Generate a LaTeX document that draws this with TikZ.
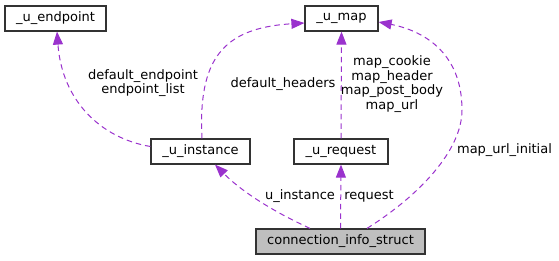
\documentclass[tikz,border=0pt]{standalone}
\usepackage{fontspec}
\setmainfont{DejaVu Sans}
\usetikzlibrary{arrows.meta}
\definecolor{edgecol}{HTML}{9A32CD}
\definecolor{boxline}{HTML}{333333}
\definecolor{mainfill}{HTML}{BFBFBF}
\begin{document}
\begin{tikzpicture}[x=1pt,y=-1pt,
  every node/.style={font=\fontsize{13}{14.7}\selectfont},
  classbox/.style={draw=boxline,line width=1.2pt,fill=white,minimum height=25pt,inner sep=0pt},
  usage/.style={draw=edgecol,line width=1pt,dash pattern=on 5.5pt off 4pt,
    -{Triangle[length=13pt,width=10pt,fill=edgecol]}},
  lbl/.style={align=center,inner sep=0pt}]
  \useasboundingbox (0,0) rectangle (559,260);

  % classes
  \node[classbox,minimum width=101pt] (ep) at (55.5,18.5) {\_u\_endpoint};
  \node[classbox,minimum width=73pt] (map) at (341.5,18.5) {\_u\_map};
  \node[classbox,minimum width=99pt] (inst) at (200.5,151.5) {\_u\_instance};
  \node[classbox,minimum width=94pt] (req) at (341,151.5) {\_u\_request};
  \node[classbox,minimum width=169pt,fill=mainfill] (cis) at (340.5,241.5) {connection\_info\_struct};

  % usage relations
  \draw[usage] ([yshift=5pt]inst.west) .. controls (100,138) and (62,100) .. ([xshift=1.5pt]ep.south);
  \draw[usage] ([xshift=1.5pt]inst.north) .. controls (198,60) and (222,28) .. ([yshift=-4.5pt]map.west);
  \draw[usage] (req.north) -- (map.south);
  \draw[usage] ([xshift=26.5pt]cis.north) .. controls (420,195) and (462,150) .. (462,110)
    .. controls (462,50) and (420,30) .. ([yshift=-3.5pt]map.east);
  \draw[usage] ([xshift=-30.5pt]cis.north) .. controls (270,210) and (240,190) .. ([xshift=14.5pt]inst.south);
  \draw[usage] (cis.north) -- (req.south);

  % member labels
  \node[lbl] (l1) at (143,83) {default\_endpoint\\endpoint\_list};
  \node[lbl] (l2) at (283,84) {default\_headers};
  \node[lbl] (l3) at (392,84) {map\_cookie\\map\_header\\map\_post\_body\\map\_url};
  \node[lbl] (l4) at (504.5,150) {map\_url\_initial};
  \node[lbl] (l5) at (300,196) {u\_instance};
  \node[lbl] (l6) at (369,196) {request};
\end{tikzpicture}
\end{document}
